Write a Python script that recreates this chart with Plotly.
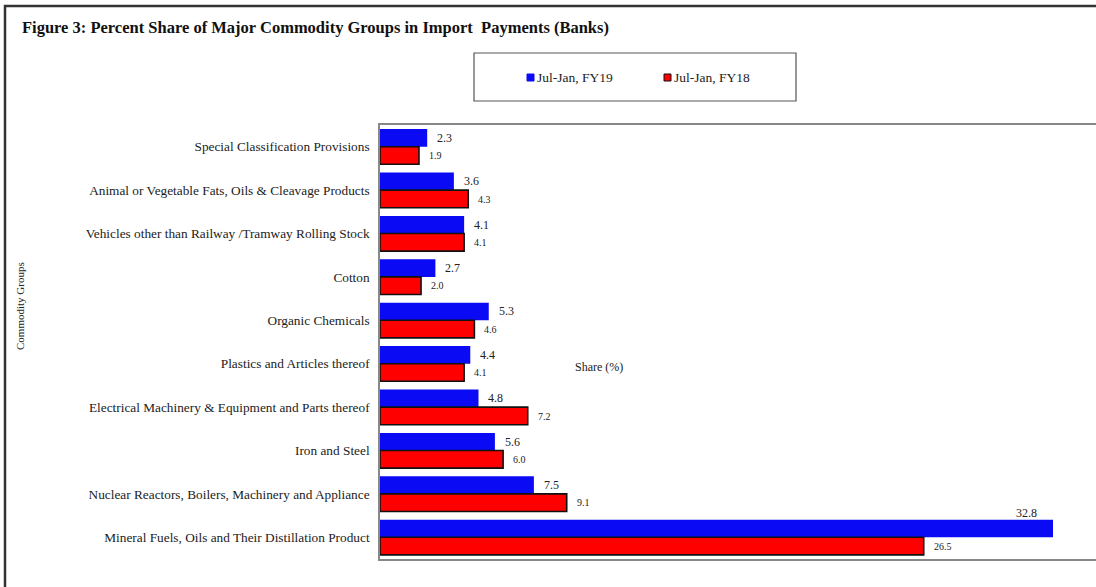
import plotly.graph_objects as go

categories = [
    "Special Classification Provisions",
    "Animal or Vegetable Fats, Oils & Cleavage Products",
    "Vehicles other than Railway /Tramway Rolling Stock",
    "Cotton",
    "Organic Chemicals",
    "Plastics and Articles thereof",
    "Electrical Machinery & Equipment and Parts thereof",
    "Iron and Steel",
    "Nuclear Reactors, Boilers, Machinery and Appliance",
    "Mineral Fuels, Oils and Their Distillation Product",
]
fy19 = [2.3, 3.6, 4.1, 2.7, 5.3, 4.4, 4.8, 5.6, 7.5, 32.8]
fy18 = [1.9, 4.3, 4.1, 2.0, 4.6, 4.1, 7.2, 6.0, 9.1, 26.5]
series_names = ["Jul-Jan, FY19", "Jul-Jan, FY18"]

FONT = "Liberation Serif, Times New Roman, serif"
BLUE, RED = "#0A0AF5", "#FF0000"
W, H = 1096, 587
L, R, T, B = 380, 0, 125, 28
pw, ph = W - L - R, H - T - B

def px_x(p):
    return (p - L) / pw

def px_y(p):
    return 1 + (T - p) / ph

fig = go.Figure()
fig.add_trace(go.Bar(
    y=categories, x=fy19, orientation="h", name=series_names[0],
    marker=dict(color=BLUE, line=dict(color=BLUE, width=0)), showlegend=False,
))
fig.add_trace(go.Bar(
    y=categories, x=fy18, orientation="h", name=series_names[1],
    marker=dict(color=RED, line=dict(color="#111111", width=1.6)), showlegend=False,
))

annotations = []
xmax = max(fy19 + fy18)
for cat, v in zip(categories, fy19):
    if v == xmax:
        annotations.append(dict(x=v, y=cat, xref="x", yref="y", text=f"{v:.1f}",
                                showarrow=False, xanchor="right", xshift=-14, yshift=24,
                                font=dict(family=FONT, size=12, color="#222")))
    else:
        annotations.append(dict(x=v, y=cat, xref="x", yref="y", text=f"{v:.1f}",
                                showarrow=False, xanchor="left", xshift=8, yshift=9,
                                font=dict(family=FONT, size=12, color="#222")))
for cat, v in zip(categories, fy18):
    annotations.append(dict(x=v, y=cat, xref="x", yref="y", text=f"{v:.1f}",
                            showarrow=False, xanchor="left", xshift=8, yshift=-9,
                            font=dict(family=FONT, size=10, color="#222")))

annotations.append(dict(text="<b>Figure 3: Percent Share of Major Commodity Groups in Import  Payments (Banks)</b>",
                        xref="paper", yref="paper", x=px_x(20), y=px_y(28), xanchor="left", yanchor="middle",
                        showarrow=False, font=dict(family=FONT, size=16.5, color="#111")))
annotations.append(dict(text="Commodity Groups", xref="paper", yref="paper", x=px_x(20), y=px_y(306),
                        xanchor="center", yanchor="middle", textangle=-90, showarrow=False,
                        font=dict(family=FONT, size=11, color="#222")))
annotations.append(dict(text="Share (%)", xref="paper", yref="paper", x=px_x(599), y=px_y(367),
                        xanchor="center", yanchor="middle", showarrow=False,
                        font=dict(family=FONT, size=12, color="#222")))

# legend entries
legend_items = [(series_names[0], BLUE, BLUE, 527, 535), (series_names[1], RED, "#111", 664, 672)]
shapes = [
    # outer frame
    dict(type="rect", xref="paper", yref="paper", x0=px_x(5), x1=px_x(1120), y0=px_y(620), y1=px_y(6),
         line=dict(color="#333", width=2.5), fillcolor="rgba(0,0,0,0)", layer="below"),
    # legend box
    dict(type="rect", xref="paper", yref="paper", x0=px_x(474), x1=px_x(796), y0=px_y(101), y1=px_y(53),
         line=dict(color="#555", width=1.2), fillcolor="white", layer="below"),
]
for name, fill, edge, sx, tx in legend_items:
    shapes.append(dict(type="rect", xref="paper", yref="paper", x0=px_x(sx), x1=px_x(sx + 7),
                       y0=px_y(81), y1=px_y(74), fillcolor=fill, line=dict(color=edge, width=1)))
    annotations.append(dict(text=name, xref="paper", yref="paper", x=px_x(tx), y=px_y(77.5),
                            xanchor="left", yanchor="middle", showarrow=False,
                            font=dict(family=FONT, size=13.5, color="#222")))

fig.update_layout(
    width=W, height=H,
    margin=dict(l=L, r=R, t=T, b=B, autoexpand=False),
    paper_bgcolor="white", plot_bgcolor="white",
    barmode="group", bargap=0.19, bargroupgap=0.0,
    font=dict(family=FONT, size=12, color="#222"),
    showlegend=False,
    xaxis=dict(range=[0, pw / (673 / 32.8)], showticklabels=False, showgrid=False, zeroline=False,
               showline=True, mirror=True, linecolor="#888", linewidth=2, ticks="", automargin=False),
    yaxis=dict(range=[len(categories) - 0.5, -0.5], autorange=False, showgrid=False, zeroline=False,
               showline=True, mirror=False, automargin=False,
               linecolor="#888", linewidth=1.5, ticks="", ticklabelstandoff=6,
               tickfont=dict(family=FONT, size=13.3, color="#222")),
    annotations=annotations,
    shapes=shapes,
)

fig.write_html("out.html", config={"displayModeBar": False},
               post_script="document.body.style.margin='0';document.body.style.overflow='hidden';")
